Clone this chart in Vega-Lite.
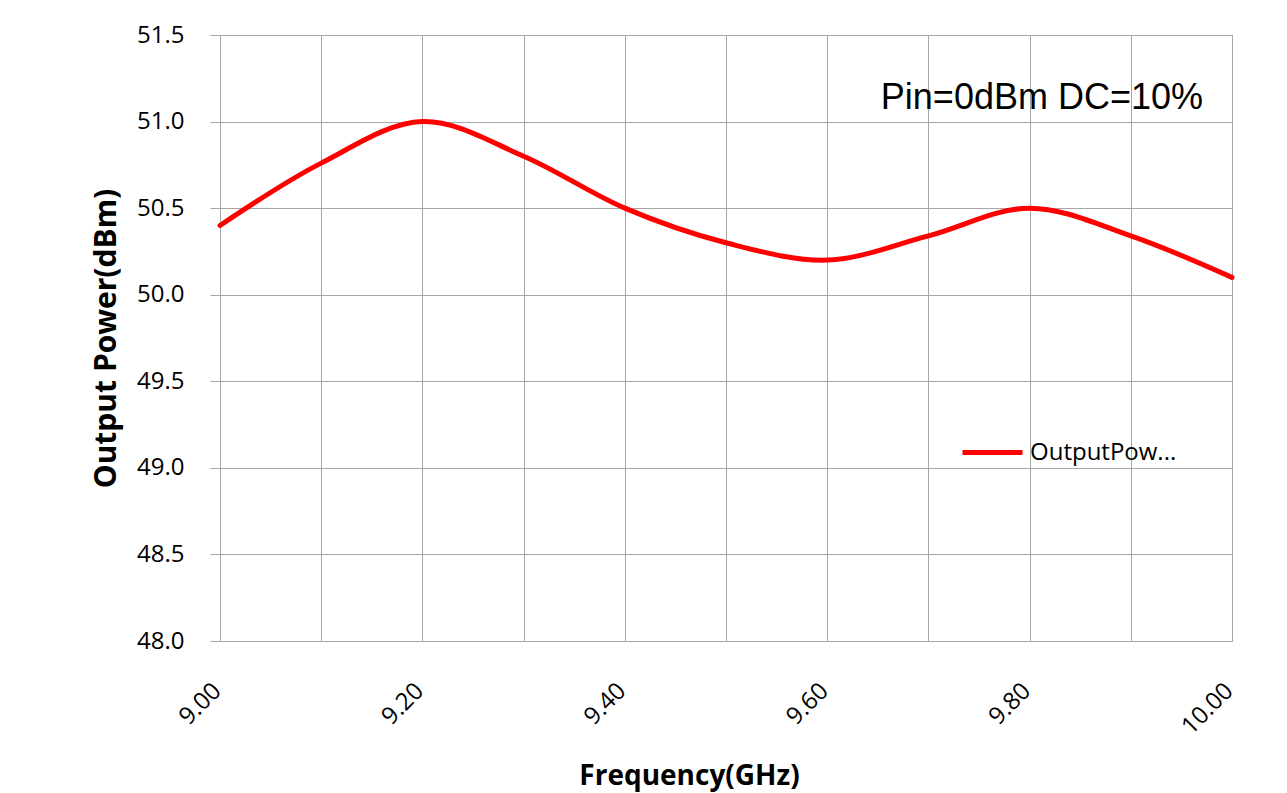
{
  "$schema": "https://vega.github.io/schema/vega-lite/v6.json",
  "autosize": {"type": "none"},
  "padding": {"left": 220, "top": 35, "right": 55, "bottom": 152},
  "width": 1012,
  "height": 606,
  "background": "white",
  "title": {
    "text": "Pin=0dBm DC=10%",
    "anchor": "end",
    "frame": "group",
    "orient": "top",
    "offset": 0,
    "dx": -29,
    "dy": 122,
    "baseline": "alphabetic",
    "font": "Liberation Sans",
    "fontSize": 36,
    "fontWeight": "normal",
    "color": "#000000"
  },
  "data": {
    "values": [
      {"freq": 9.0, "power": 50.40, "series": "OutputPow..."},
      {"freq": 9.1, "power": 50.76, "series": "OutputPow..."},
      {"freq": 9.2, "power": 51.00, "series": "OutputPow..."},
      {"freq": 9.3, "power": 50.80, "series": "OutputPow..."},
      {"freq": 9.4, "power": 50.50, "series": "OutputPow..."},
      {"freq": 9.5, "power": 50.30, "series": "OutputPow..."},
      {"freq": 9.6, "power": 50.20, "series": "OutputPow..."},
      {"freq": 9.7, "power": 50.34, "series": "OutputPow..."},
      {"freq": 9.8, "power": 50.50, "series": "OutputPow..."},
      {"freq": 9.9, "power": 50.34, "series": "OutputPow..."},
      {"freq": 10.0, "power": 50.10, "series": "OutputPow..."}
    ]
  },
  "mark": {"type": "line", "interpolate": "catmull-rom", "strokeWidth": 5, "strokeCap": "round"},
  "encoding": {
    "x": {
      "field": "freq",
      "type": "quantitative",
      "scale": {"domain": [9.0, 10.0], "nice": false, "zero": false},
      "axis": {
        "title": "Frequency(GHz)",
        "values": [9.0, 9.1, 9.2, 9.3, 9.4, 9.5, 9.6, 9.7, 9.8, 9.9, 10.0],
        "labelExpr": "round(datum.value*10) % 2 == 0 ? format(datum.value, '.2f') : ''",
        "labelAngle": -45,
        "labelAlign": "right",
        "labelBaseline": "middle",
        "labelPadding": 46,
        "labelOffset": -3,
        "labelFont": "Open Sans",
        "labelFontSize": 24,
        "labelColor": "#000000",
        "labelOverlap": false,
        "labelFlush": false,
        "ticks": false,
        "grid": true,
        "gridColor": "#a6a6a6",
        "gridWidth": 1,
        "gridOpacity": 1,
        "domainColor": "#a6a6a6",
        "titleFont": "Open Sans",
        "titleFontSize": 28,
        "titleFontWeight": "bold",
        "titleColor": "#000000",
        "titleX": 469,
        "titleY": 143,
        "titleBaseline": "alphabetic",
        "titleAnchor": "middle"
      }
    },
    "y": {
      "field": "power",
      "type": "quantitative",
      "scale": {"domain": [48.0, 51.5], "nice": false, "zero": false},
      "axis": {
        "title": "Output Power(dBm)",
        "values": [48.0, 48.5, 49.0, 49.5, 50.0, 50.5, 51.0, 51.5],
        "format": ".1f",
        "labelFont": "Open Sans",
        "labelFontSize": 24,
        "labelColor": "#000000",
        "labelPadding": 26,
        "labelFlush": false,
        "labelOverlap": false,
        "tickSize": 10,
        "tickColor": "#a6a6a6",
        "grid": true,
        "gridColor": "#a6a6a6",
        "gridWidth": 1,
        "gridOpacity": 1,
        "domainColor": "#a6a6a6",
        "titleFont": "Open Sans",
        "titleFontSize": 30,
        "titleFontWeight": "bold",
        "titleColor": "#000000",
        "titleX": -99,
        "titleY": 303,
        "titleAnchor": "middle"
      }
    },
    "color": {
      "field": "series",
      "type": "nominal",
      "scale": {"range": ["#ff0000"]},
      "legend": {
        "title": null,
        "orient": "none",
        "legendX": 740,
        "legendY": 385,
        "padding": 0,
        "symbolType": "stroke",
        "symbolSize": 3600,
        "symbolStrokeWidth": 5,
        "labelFont": "Open Sans",
        "labelFontSize": 24,
        "labelColor": "#000000",
        "labelOffset": 5,
        "labelLimit": 400
      }
    }
  },
  "config": {
    "view": {"stroke": "#a6a6a6", "strokeWidth": 1}
  }
}
